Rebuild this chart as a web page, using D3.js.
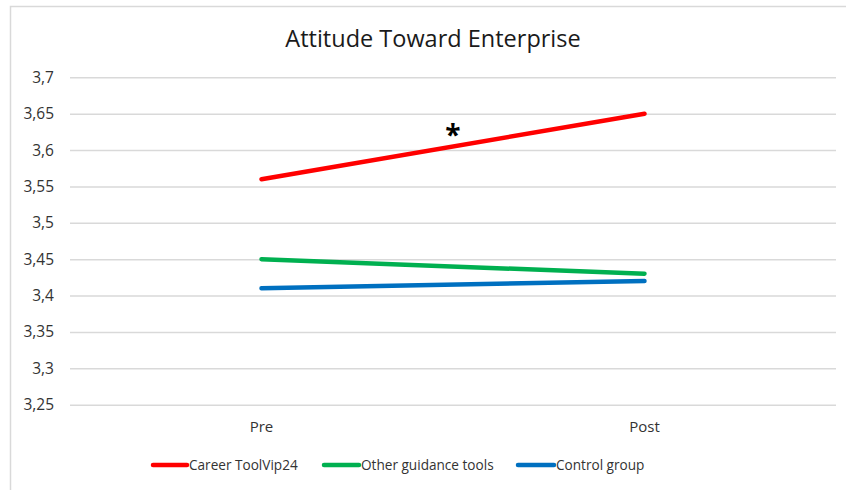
<!DOCTYPE html>
<html>
<head>
<meta charset="utf-8">
<script src="https://cdn.jsdelivr.net/npm/d3@7"></script>
<style>
  html, body { margin: 0; padding: 0; background: #fff; }
  svg { display: block; font-family: "Open Sans", "Noto Sans", sans-serif; }
</style>
</head>
<body>
<svg id="chart" width="846" height="490"></svg>
<script>
// Measurement occasions on the x axis
const categories = ["Pre", "Post"];

// Mean attitude scores per group
const seriesNames = ["Career ToolVip24", "Other guidance tools", "Control group"];
const careerToolValues = [3.56, 3.65];
const otherToolsValues = [3.45, 3.43];
const controlValues = [3.41, 3.42];

// Y axis ticks
const yTicks = [3.25, 3.3, 3.35, 3.4, 3.45, 3.5, 3.55, 3.6, 3.65, 3.7];

const seriesColors = ["#FF0000", "#00B050", "#0070C0"];
const series = [careerToolValues, otherToolsValues, controlValues].map((vals, i) => ({
  name: seriesNames[i],
  color: seriesColors[i],
  values: vals.map((v, j) => ({ cat: categories[j], v }))
}));

const svg = d3.select("#chart");
const fmt = v => d3.format(".2~f")(v).replace(".", ",");

// Outer chart frame
svg.append("rect")
  .attr("x", 10.5).attr("y", 6.5)
  .attr("width", 900).attr("height", 600)
  .attr("fill", "#fff")
  .attr("stroke", "#d9d9d9").attr("stroke-width", 1.5);

const plot = { left: 70, right: 836, top: 77.3, bottom: 404.7 };

const x = d3.scaleBand().domain(categories).range([plot.left, plot.right]).padding(0);
const y = d3.scaleLinear().domain([3.25, 3.7]).range([plot.bottom, plot.top]);

// Title
svg.append("text")
  .attr("x", 433).attr("y", 47)
  .attr("text-anchor", "middle")
  .attr("font-size", 23.5)
  .attr("fill", "#1a1a1a")
  .text("Attitude Toward Enterprise");

// Horizontal gridlines and y tick labels
const yAxis = d3.axisLeft(y)
  .tickValues(yTicks)
  .tickSize(-(plot.right - plot.left))
  .tickPadding(16)
  .tickFormat(fmt);

const gy = svg.append("g")
  .attr("transform", `translate(${plot.left},0)`)
  .call(yAxis);
gy.select(".domain").remove();
gy.selectAll(".tick line").attr("stroke", "#d9d9d9").attr("stroke-width", 1.5);
gy.selectAll(".tick text")
  .attr("font-family", "Open Sans, sans-serif")
  .attr("font-size", 15.5)
  .attr("fill", "#333");

// Category labels
const xAxis = d3.axisBottom(x).tickSize(0).tickPadding(17);
const gx = svg.append("g")
  .attr("transform", `translate(0,${plot.bottom})`)
  .call(xAxis);
gx.select(".domain").remove();
gx.selectAll(".tick text")
  .attr("font-family", "Open Sans, sans-serif")
  .attr("font-size", 15)
  .attr("fill", "#333");

// Series lines
const line = d3.line()
  .x(d => x(d.cat) + x.bandwidth() / 2)
  .y(d => y(d.v));

svg.append("g").selectAll("path")
  .data(series)
  .join("path")
  .attr("d", d => line(d.values))
  .attr("fill", "none")
  .attr("stroke", d => d.color)
  .attr("stroke-width", 4.5)
  .attr("stroke-linecap", "round");

// Significance marker on the Career ToolVip24 change
const midX = (x(categories[0]) + x(categories[1]) + x.bandwidth()) / 2;
const midV = (careerToolValues[0] + careerToolValues[1]) / 2;
svg.append("text")
  .attr("x", midX).attr("y", y(midV) - 1)
  .attr("text-anchor", "middle")
  .attr("font-size", 28)
  .attr("font-weight", "bold")
  .attr("fill", "#000")
  .text("*");

// Legend
const legendItems = [
  { x: 153, w: 34 },
  { x: 324, w: 35 },
  { x: 518, w: 36 }
];
const legend = svg.append("g").attr("transform", "translate(0,465)");
series.forEach((s, i) => {
  const it = legendItems[i];
  legend.append("line")
    .attr("x1", it.x).attr("x2", it.x + it.w)
    .attr("y1", 0).attr("y2", 0)
    .attr("stroke", s.color).attr("stroke-width", 4.5)
    .attr("stroke-linecap", "round");
  legend.append("text")
    .attr("x", it.x + it.w + 2).attr("y", 5)
    .attr("font-size", 13.6)
    .attr("fill", "#333")
    .text(s.name);
});
</script>
</body>
</html>
